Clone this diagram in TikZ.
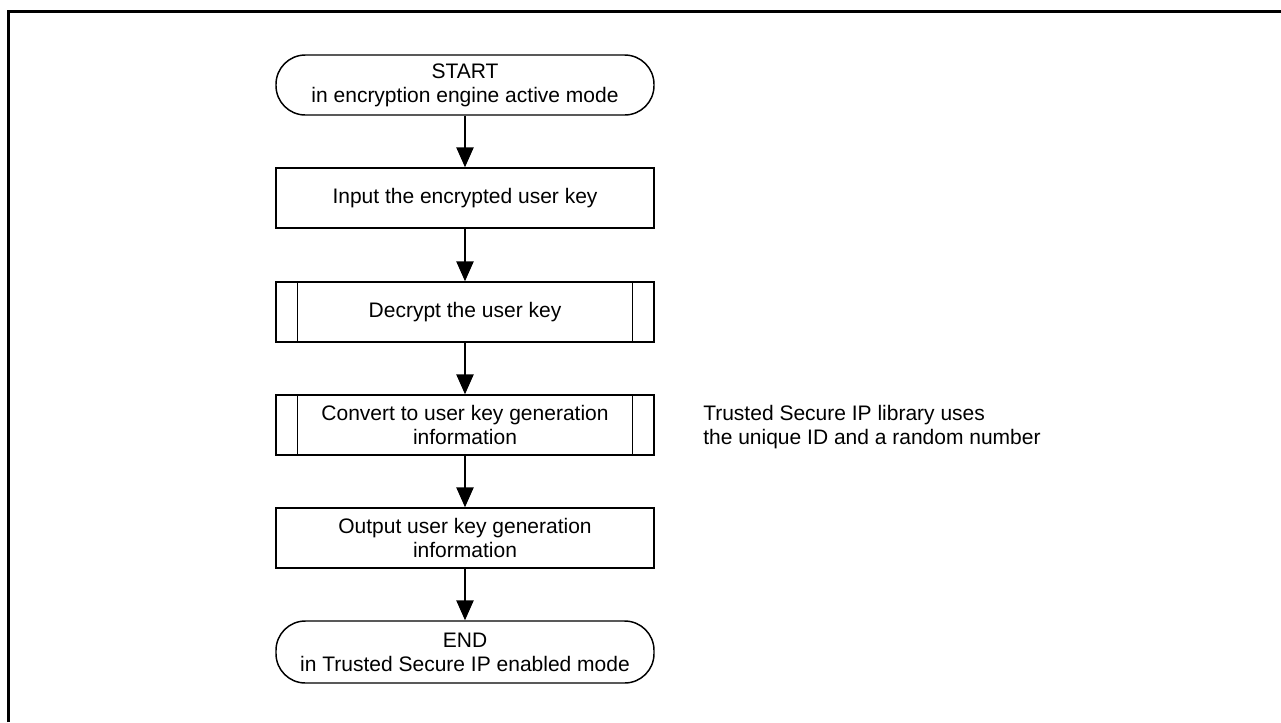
\documentclass[tikz,border=0pt]{standalone}
\usepackage{fontspec}
\setmainfont{Liberation Sans}
\usetikzlibrary{arrows.meta}
\begin{document}
\begin{tikzpicture}[x=0.75pt,y=-0.75pt,
  every node/.style={font=\fontsize{15.75pt}{18pt}\selectfont, inner sep=0pt, align=center},
  boxstyle/.style={draw, line width=1.1pt, minimum width=283.5pt, minimum height=45pt},
  termstyle/.style={boxstyle, rounded corners=22pt},
  flow/.style={line width=1.1pt, -{Triangle[length=15pt,width=13pt]}},
  framestyle/.style={line width=2.3pt}]
\useasboundingbox (0,0) rectangle (1281,722);
\coordinate (ftl) at (8.5,11.3);
\coordinate (ftr) at (1281,11.3);
\coordinate (fbl) at (8.5,722);
\draw[framestyle] (fbl) -- (ftl) -- (ftr);
\node[termstyle] (start) at (465,85) {START\\in encryption engine active mode};
\node[boxstyle] (input) at (465,198) {Input the encrypted user key};
\node[boxstyle] (decrypt) at (465,312) {Decrypt the user key};
\node[boxstyle] (convert) at (465,425) {Convert to user key generation\\information};
\node[boxstyle] (output) at (465,538) {Output user key generation\\information};
\node[termstyle, minimum height=46.5pt] (end) at (465,652) {END\\in Trusted Secure IP enabled mode};
\foreach \n in {decrypt,convert}{
  \draw[line width=1.1pt] ([xshift=16.5pt]\n.north west) -- ([xshift=16.5pt]\n.south west);
  \draw[line width=1.1pt] ([xshift=-16.5pt]\n.north east) -- ([xshift=-16.5pt]\n.south east);
}
\node[align=left, anchor=west] (note) at (703,427) {Trusted Secure IP library uses\\the unique ID and a random number};
\draw[flow] (start) -- (input);
\draw[flow] (input) -- (decrypt);
\draw[flow] (decrypt) -- (convert);
\draw[flow] (convert) -- (output);
\draw[flow] (output) -- (end);
\end{tikzpicture}
\end{document}
